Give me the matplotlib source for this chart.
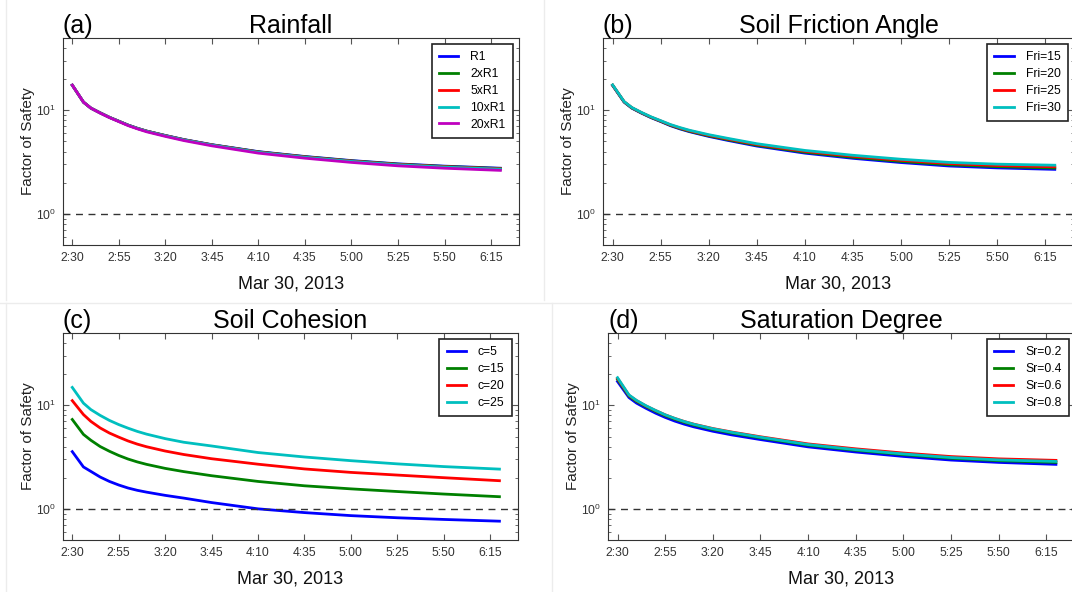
import numpy as np
import pandas as pd
import matplotlib
matplotlib.use('Agg')
import matplotlib.pyplot as plt
import matplotlib.dates as mdates
from matplotlib.lines import Line2D

plt.rcParams['font.family'] = ['Liberation Sans', 'DejaVu Sans']
plt.rcParams['mathtext.default'] = 'regular'

# minutes after 2:30 on Mar 30, 2013
minutes = [0, 6, 10, 15, 20, 25, 30, 35, 40, 50, 60, 75, 100, 125, 150, 175, 200, 230]

rain_labels = ['R1', '2xR1', '5xR1', '10xR1', '20xR1']
rain_r1 = [17.5, 12.0, 10.5, 9.45, 8.55, 7.85, 7.2, 6.7, 6.3, 5.72, 5.22, 4.66, 3.99, 3.58, 3.27, 3.04, 2.89, 2.76]
rain_2x = [17.5, 12.0, 10.5, 9.45, 8.55, 7.85, 7.2, 6.7, 6.3, 5.7, 5.2, 4.64, 3.97, 3.56, 3.25, 3.02, 2.87, 2.74]
rain_5x = [17.5, 12.0, 10.5, 9.45, 8.55, 7.84, 7.19, 6.69, 6.29, 5.69, 5.19, 4.63, 3.95, 3.54, 3.23, 3.0, 2.85, 2.72]
rain_10x = [17.5, 12.0, 10.5, 9.44, 8.54, 7.83, 7.18, 6.68, 6.27, 5.67, 5.17, 4.61, 3.93, 3.52, 3.21, 2.98, 2.83, 2.7]
rain_20x = [17.5, 12.0, 10.5, 9.4, 8.5, 7.78, 7.12, 6.62, 6.2, 5.6, 5.1, 4.54, 3.86, 3.45, 3.14, 2.91, 2.76, 2.63]

fri_labels = ['Fri=15', 'Fri=20', 'Fri=25', 'Fri=30']
fri_15 = [17.4, 12.0, 10.5, 9.4, 8.5, 7.8, 7.12, 6.62, 6.22, 5.6, 5.12, 4.52, 3.86, 3.44, 3.13, 2.9, 2.78, 2.69]
fri_20 = [17.5, 12.05, 10.55, 9.45, 8.55, 7.85, 7.18, 6.68, 6.28, 5.67, 5.2, 4.6, 3.94, 3.52, 3.21, 2.98, 2.86, 2.77]
fri_25 = [17.5, 12.1, 10.6, 9.5, 8.6, 7.9, 7.24, 6.75, 6.35, 5.74, 5.28, 4.68, 4.02, 3.6, 3.29, 3.06, 2.93, 2.85]
fri_30 = [17.6, 12.15, 10.65, 9.55, 8.65, 7.95, 7.3, 6.82, 6.42, 5.82, 5.36, 4.76, 4.1, 3.68, 3.37, 3.14, 3.02, 2.95]

coh_labels = ['c=5', 'c=15', 'c=20', 'c=25']
coh_5 = [3.57, 2.54, 2.3, 2.03, 1.84, 1.7, 1.59, 1.51, 1.45, 1.35, 1.27, 1.15, 1.0, 0.92, 0.86, 0.82, 0.79, 0.76]
coh_15 = [7.3, 5.24, 4.6, 4.0, 3.6, 3.28, 3.03, 2.84, 2.69, 2.46, 2.29, 2.09, 1.84, 1.67, 1.56, 1.47, 1.39, 1.31]
coh_20 = [11.1, 8.15, 7.0, 6.05, 5.4, 4.93, 4.53, 4.22, 3.98, 3.62, 3.35, 3.05, 2.7, 2.43, 2.25, 2.12, 2.0, 1.87]
coh_25 = [14.9, 10.5, 9.1, 8.0, 7.15, 6.52, 6.02, 5.6, 5.27, 4.77, 4.4, 4.05, 3.5, 3.17, 2.92, 2.72, 2.56, 2.42]

sat_labels = ['Sr=0.2', 'Sr=0.4', 'Sr=0.6', 'Sr=0.8']
sat_02 = [17.0, 11.9, 10.5, 9.35, 8.4, 7.65, 7.05, 6.58, 6.2, 5.62, 5.18, 4.67, 3.97, 3.54, 3.21, 2.96, 2.81, 2.69]
sat_04 = [17.8, 12.3, 10.9, 9.7, 8.75, 7.95, 7.35, 6.85, 6.45, 5.85, 5.4, 4.85, 4.12, 3.68, 3.34, 3.08, 2.92, 2.81]
sat_06 = [18.2, 12.5, 11.1, 9.85, 8.9, 8.1, 7.48, 6.98, 6.58, 5.97, 5.52, 4.97, 4.24, 3.8, 3.46, 3.2, 3.04, 2.94]
sat_08 = [18.5, 12.6, 11.15, 9.9, 8.92, 8.1, 7.48, 6.97, 6.56, 5.94, 5.48, 4.92, 4.18, 3.73, 3.39, 3.13, 2.97, 2.87]

colors = ['#0000ff', '#008000', '#ff0000', '#00bfbf', '#bf00bf']

start = pd.Timestamp('2013-03-30 02:30')
times = start + pd.to_timedelta(minutes, unit='min')
xticks = pd.date_range('2013-03-30 02:30', '2013-03-30 06:15', freq='25min')

W, H = 1072, 592
fig = plt.figure(figsize=(W / 100, H / 100), dpi=100)


def add_panel(box, tag, title, series, labels):
    l, t, r, b = box
    ax = fig.add_axes([l / W, 1 - b / H, (r - l) / W, (b - t) / H])
    for i, (y, lab) in enumerate(zip(series, labels)):
        ax.plot(times, y, color=colors[i], lw=2, label=lab)
    ax.axhline(1.0, color='#333333', ls='--', lw=1, dashes=(5, 4))
    ax.set_yscale('log')
    ax.set_ylim(0.5, 50)
    ax.set_xlim(pd.Timestamp('2013-03-30 02:25'), pd.Timestamp('2013-03-30 06:30'))
    ax.set_xticks(xticks)
    ax.xaxis.set_major_formatter(mdates.DateFormatter('%-H:%M'))
    ax.tick_params(which='both', direction='in', top=True, right=True,
                   labelsize=8.7, labelcolor='#333333', color='#555555')
    ax.tick_params(which='major', length=4, pad=5)
    ax.tick_params(which='minor', length=2)
    for s in ax.spines.values():
        s.set_color('#333333')
    ax.set_ylabel('Factor of Safety', fontsize=11, color='#222222', labelpad=1)
    ax.set_xlabel('Mar 30, 2013', fontsize=13, color='#111111', labelpad=8)
    ax.set_title(tag, loc='left', fontsize=18, pad=3)
    ax.set_title(title, loc='center', fontsize=18, pad=3)
    leg = ax.legend(loc='upper right', fontsize=8.7, fancybox=False, framealpha=1,
                    edgecolor='#222222', handlelength=1.6, handletextpad=1.0,
                    labelspacing=0.4, borderaxespad=0.5, borderpad=0.6)
    leg.get_frame().set_linewidth(1.2)
    return ax


add_panel((63, 38, 519, 245), '(a)', 'Rainfall',
          [rain_r1, rain_2x, rain_5x, rain_10x, rain_20x], rain_labels)
add_panel((603, 38, 1074, 245), '(b)', 'Soil Friction Angle',
          [fri_15, fri_20, fri_25, fri_30], fri_labels)
add_panel((63, 333, 518, 540), '(c)', 'Soil Cohesion',
          [coh_5, coh_15, coh_20, coh_25], coh_labels)
add_panel((608, 333, 1075, 540), '(d)', 'Saturation Degree',
          [sat_02, sat_04, sat_06, sat_08], sat_labels)

# faint panel dividers of the composite figure
for xs, ys in [((6, 6), (0, 300)), ((544, 544), (0, 300)), ((552, 552), (303, 592)),
               ((0, 1072), (303, 303)), ((6, 6), (303, 592))]:
    fig.add_artist(Line2D([x / W for x in xs], [1 - y / H for y in ys],
                          color='#ececec', lw=1))

fig.savefig('out.png', dpi=100)
